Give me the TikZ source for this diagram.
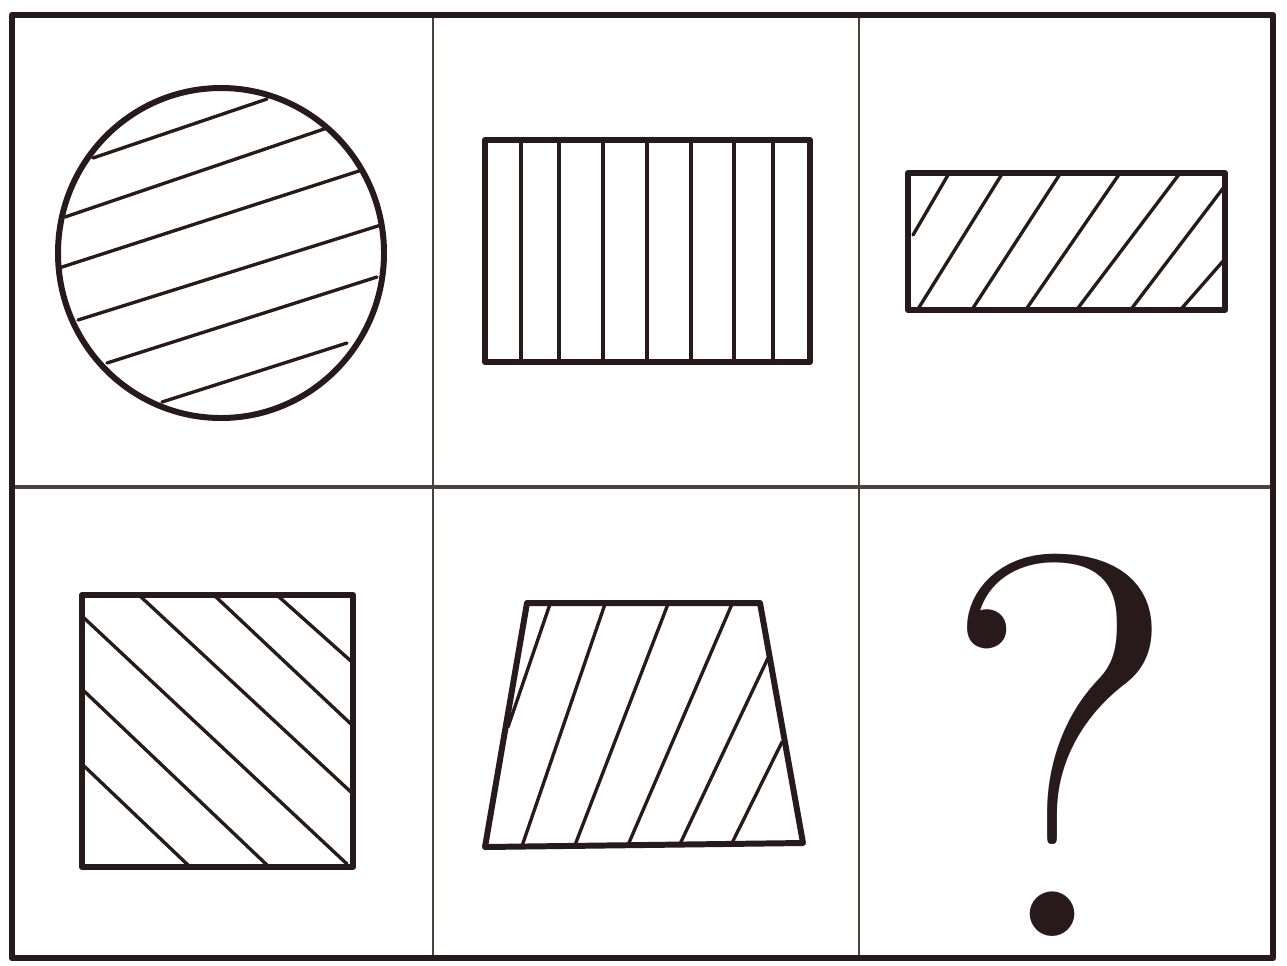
\documentclass[tikz,border=0pt]{standalone}
\usepackage{fontspec}
\definecolor{ink}{RGB}{40,26,26}
\definecolor{gridc}{RGB}{75,65,60}
\tikzset{
  outline/.style={draw=ink, line width=3.4pt, line join=round, line cap=round},
  hatch/.style={draw=ink, line width=1.9pt, line cap=round},
  frame/.style={draw=ink, line width=3.8pt, line join=round},
  vdivider/.style={draw=gridc, line width=1.2pt},
  hdivider/.style={draw=gridc, line width=2.4pt},
}
\begin{document}
\begin{tikzpicture}[x=0.02cm,y=-0.02cm]
\useasboundingbox[fill=white] (0,0) rectangle (1287,965);
% grid
\draw[vdivider] (433,15) -- (433,958);
\draw[vdivider] (859,15) -- (859,958);
\draw[hdivider] (12,487) -- (1273,487);
\draw[frame] (12,15) rectangle (1273,958);

% circle
\draw[outline] (221,253) ellipse [x radius=163, y radius=165];
\draw[hatch] (93,158) -- (267,99);
\draw[hatch] (65,217) -- (327,128);
\draw[hatch] (59,268) -- (362,170);
\draw[hatch] (78,320) -- (381,225);
\draw[hatch] (107,363) -- (377,277);
\draw[hatch] (162,402) -- (347,343);

% vertical-hatched rectangle
\draw[outline] (485,140) rectangle (810,362);
\foreach \x in {521,559,603,647,691,734,773}
  \draw[hatch] (\x,141) -- (\x,361);

% diagonal-hatched rectangle
\draw[outline] (908,173) rectangle (1225,310);
\draw[hatch] (948,175) -- (913,235);
\draw[hatch] (1002,174) -- (918,309);
\draw[hatch] (1060,174) -- (973,308);
\draw[hatch] (1120,173) -- (1027,308);
\draw[hatch] (1180,173) -- (1078,308);
\draw[hatch] (1224,187) -- (1132,308);
\draw[hatch] (1224,260) -- (1182,308);

% square
\draw[outline] (82,595) rectangle (353,867);
\draw[hatch] (278,596) -- (352,662);
\draw[hatch] (215,596) -- (352,725);
\draw[hatch] (140,596) -- (352,793);
\draw[hatch] (83,617) -- (347,864);
\draw[hatch] (83,690) -- (267,865);
\draw[hatch] (83,765) -- (188,865);

% trapezoid
\draw[outline] (527,603) -- (760,603) -- (803,843) -- (485,847) -- cycle;
\draw[hatch] (550,604) -- (508,727);
\draw[hatch] (605,604) -- (522,846);
\draw[hatch] (668,604) -- (575,845);
\draw[hatch] (732,604) -- (628,845);
\draw[hatch] (768,658) -- (680,844);
\draw[hatch] (782,742) -- (732,843);

% question mark
\node[font=\fontsize{310}{310}\selectfont, text=ink, anchor=base, inner sep=0pt] (qm) at (1060,936) {?};
\end{tikzpicture}
\end{document}
